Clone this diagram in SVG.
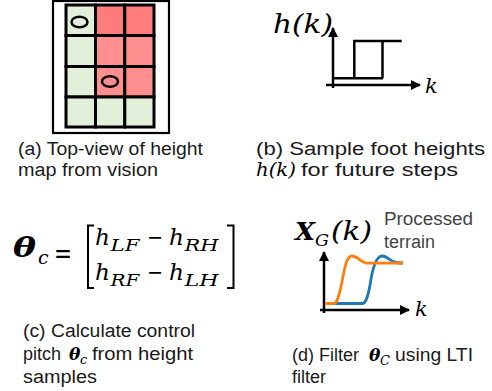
<svg xmlns="http://www.w3.org/2000/svg" width="492" height="391" viewBox="0 0 492 391">
<defs>
<style>
.cap{font-family:"Liberation Sans",Arial,sans-serif;font-size:18px;fill:#1a1a1a}
.m{font-family:"DejaVu Serif","Liberation Serif",serif;font-style:italic;fill:#000}
.n{font-family:"DejaVu Serif","Liberation Serif",serif;fill:#000}
.b{font-weight:bold}
.g{fill:#e2efd9;stroke:#000;stroke-width:3}
.r1{fill:#ff7c7c;stroke:#000;stroke-width:3}
.r2{fill:#ff8e8e;stroke:#000;stroke-width:3}
.ax{stroke:#000;stroke-width:2.5;fill:none}
.ln{stroke:#000;stroke-width:2.5;fill:none}
.pt{font-family:"Liberation Sans",Arial,sans-serif;font-size:18px;fill:#444}
</style>
<marker id="ah" viewBox="0 0 10 10" refX="9" refY="5" markerWidth="4" markerHeight="4" orient="auto" markerUnits="strokeWidth">
<path d="M0,0 L10,5 L0,10 Z" fill="#000"/>
</marker>
</defs>
<rect width="492" height="391" fill="#fff"/>

<g id="heightmap">
<rect x="53" y="1" width="116" height="132" fill="#fff" stroke="#000" stroke-width="2.2"/>
<rect class="g" x="66" y="5" width="29.5" height="30.5"/>
<rect class="r1" x="95.5" y="5" width="29.3" height="30.5"/>
<rect class="r1" x="124.8" y="5" width="29.2" height="30.5"/>
<rect class="g" x="66" y="35.5" width="29.5" height="31"/>
<rect class="r2" x="95.5" y="35.5" width="29.3" height="31"/>
<rect class="r2" x="124.8" y="35.5" width="29.2" height="31"/>
<rect class="g" x="66" y="66.5" width="29.5" height="30.5"/>
<rect class="r2" x="95.5" y="66.5" width="29.3" height="30.5"/>
<rect class="r2" x="124.8" y="66.5" width="29.2" height="30.5"/>
<rect class="g" x="66" y="97" width="29.5" height="30"/>
<rect class="g" x="95.5" y="97" width="29.3" height="30"/>
<rect class="g" x="124.8" y="97" width="29.2" height="30"/>
<ellipse cx="79.5" cy="22" rx="8" ry="5.3" fill="none" stroke="#000" stroke-width="2.5"/>
<ellipse cx="110" cy="81.5" rx="8" ry="5.3" fill="none" stroke="#000" stroke-width="2.5"/>
</g>

<g id="caption-a">
<text class="cap" x="18" y="155" textLength="185" lengthAdjust="spacingAndGlyphs">(a) Top-view of height</text>
<text class="cap" x="18" y="176" textLength="140" lengthAdjust="spacingAndGlyphs">map from vision</text>
</g>

<g id="step-plot">
<text class="m" x="273" y="33" font-size="26" textLength="60" lengthAdjust="spacingAndGlyphs">h(k)</text>
<line class="ax" x1="333" y1="88" x2="333" y2="28" marker-end="url(#ah)"/>
<line class="ax" x1="326" y1="85" x2="420" y2="85" marker-end="url(#ah)"/>
<path class="ln" d="M333,78.3 H383 M354.3,78.3 V41 H401.7 M382.5,41 V78.3"/>
<text class="m" x="425" y="93" font-size="21">k</text>
</g>

<g id="caption-b">
<text class="cap" x="256" y="155" textLength="229" lengthAdjust="spacingAndGlyphs">(b) Sample foot heights</text>
<text class="m" x="256" y="176" font-size="19" textLength="40" lengthAdjust="spacingAndGlyphs">h(k)</text>
<text class="cap" x="301" y="176" textLength="157" lengthAdjust="spacingAndGlyphs">for future steps</text>
</g>

<g id="equation">
<text class="m b" x="13" y="257" font-size="28" textLength="23" lengthAdjust="spacingAndGlyphs">θ</text>
<text class="m" x="38" y="264" font-size="19">c</text>
<text class="n" x="54" y="263" font-size="27" textLength="18" lengthAdjust="spacingAndGlyphs">=</text>
<path d="M94,225.5 H88 V288 H94 M227,225.5 H233.5 V288 H227" fill="none" stroke="#000" stroke-width="2"/>
<text class="m" x="95" y="245" font-size="23" textLength="15" lengthAdjust="spacingAndGlyphs">h</text>
<text class="m" x="110.5" y="251" font-size="16" textLength="29" lengthAdjust="spacingAndGlyphs">LF</text>
<text class="n" x="147" y="245" font-size="23" textLength="16" lengthAdjust="spacingAndGlyphs">−</text>
<text class="m" x="169" y="245" font-size="23" textLength="15" lengthAdjust="spacingAndGlyphs">h</text>
<text class="m" x="184.5" y="251" font-size="16" textLength="34" lengthAdjust="spacingAndGlyphs">RH</text>
<text class="m" x="95" y="280" font-size="23" textLength="15" lengthAdjust="spacingAndGlyphs">h</text>
<text class="m" x="110.5" y="286" font-size="16" textLength="29" lengthAdjust="spacingAndGlyphs">RF</text>
<text class="n" x="147" y="280" font-size="23" textLength="16" lengthAdjust="spacingAndGlyphs">−</text>
<text class="m" x="169" y="280" font-size="23" textLength="15" lengthAdjust="spacingAndGlyphs">h</text>
<text class="m" x="184.5" y="286" font-size="16" textLength="34" lengthAdjust="spacingAndGlyphs">LH</text>
</g>

<g id="caption-c">
<text class="cap" x="23" y="337" textLength="172" lengthAdjust="spacingAndGlyphs">(c) Calculate control</text>
<text class="cap" x="23" y="360">pitch</text>
<text class="m b" x="69" y="360" font-size="17">θ</text>
<text class="m" x="80" y="364" font-size="13">c</text>
<text class="cap" x="92" y="360" textLength="101" lengthAdjust="spacingAndGlyphs">from height</text>
<text class="cap" x="23" y="383" textLength="74" lengthAdjust="spacingAndGlyphs">samples</text>
</g>

<g id="filter-plot">
<text class="m b" x="295" y="240" font-size="25" textLength="20" lengthAdjust="spacingAndGlyphs">X</text>
<text class="m" x="315" y="246" font-size="16" textLength="14" lengthAdjust="spacingAndGlyphs">G</text>
<text class="m" x="331" y="240" font-size="26" textLength="41" lengthAdjust="spacingAndGlyphs">(k)</text>
<text class="pt" x="384" y="225" textLength="89" lengthAdjust="spacingAndGlyphs">Processed</text>
<text class="pt" x="384" y="248">terrain</text>
<line class="ax" x1="324" y1="313" x2="324" y2="252" marker-end="url(#ah)"/>
<line class="ax" x1="320" y1="310" x2="409" y2="310" marker-end="url(#ah)"/>
<path d="M326,303.5 H362 C366,303.5 368,296 370,285 C373,265 377,256 382,256 C388,256 390,262 396,262.5 C399,263 401,263 403,263" fill="none" stroke="#1f77b4" stroke-width="2.8"/>
<path d="M325,303.5 H334 C337,303.5 339,296 342,282 C345,265 347,256 352,256 C358,256 360,262 366,263 C372,263.5 390,263 403,263" fill="none" stroke="#ff7f0e" stroke-width="2.8"/>
<text class="m" x="415" y="316" font-size="21">k</text>
</g>

<g id="caption-d">
<text class="cap" x="292" y="361">(d) Filter</text>
<text class="m b" x="369" y="361" font-size="17">θ</text>
<text class="m" x="380" y="365" font-size="13">C</text>
<text class="cap" x="395" y="361" textLength="78" lengthAdjust="spacingAndGlyphs">using LTI</text>
<text class="cap" x="292" y="383">filter</text>
</g>
</svg>
